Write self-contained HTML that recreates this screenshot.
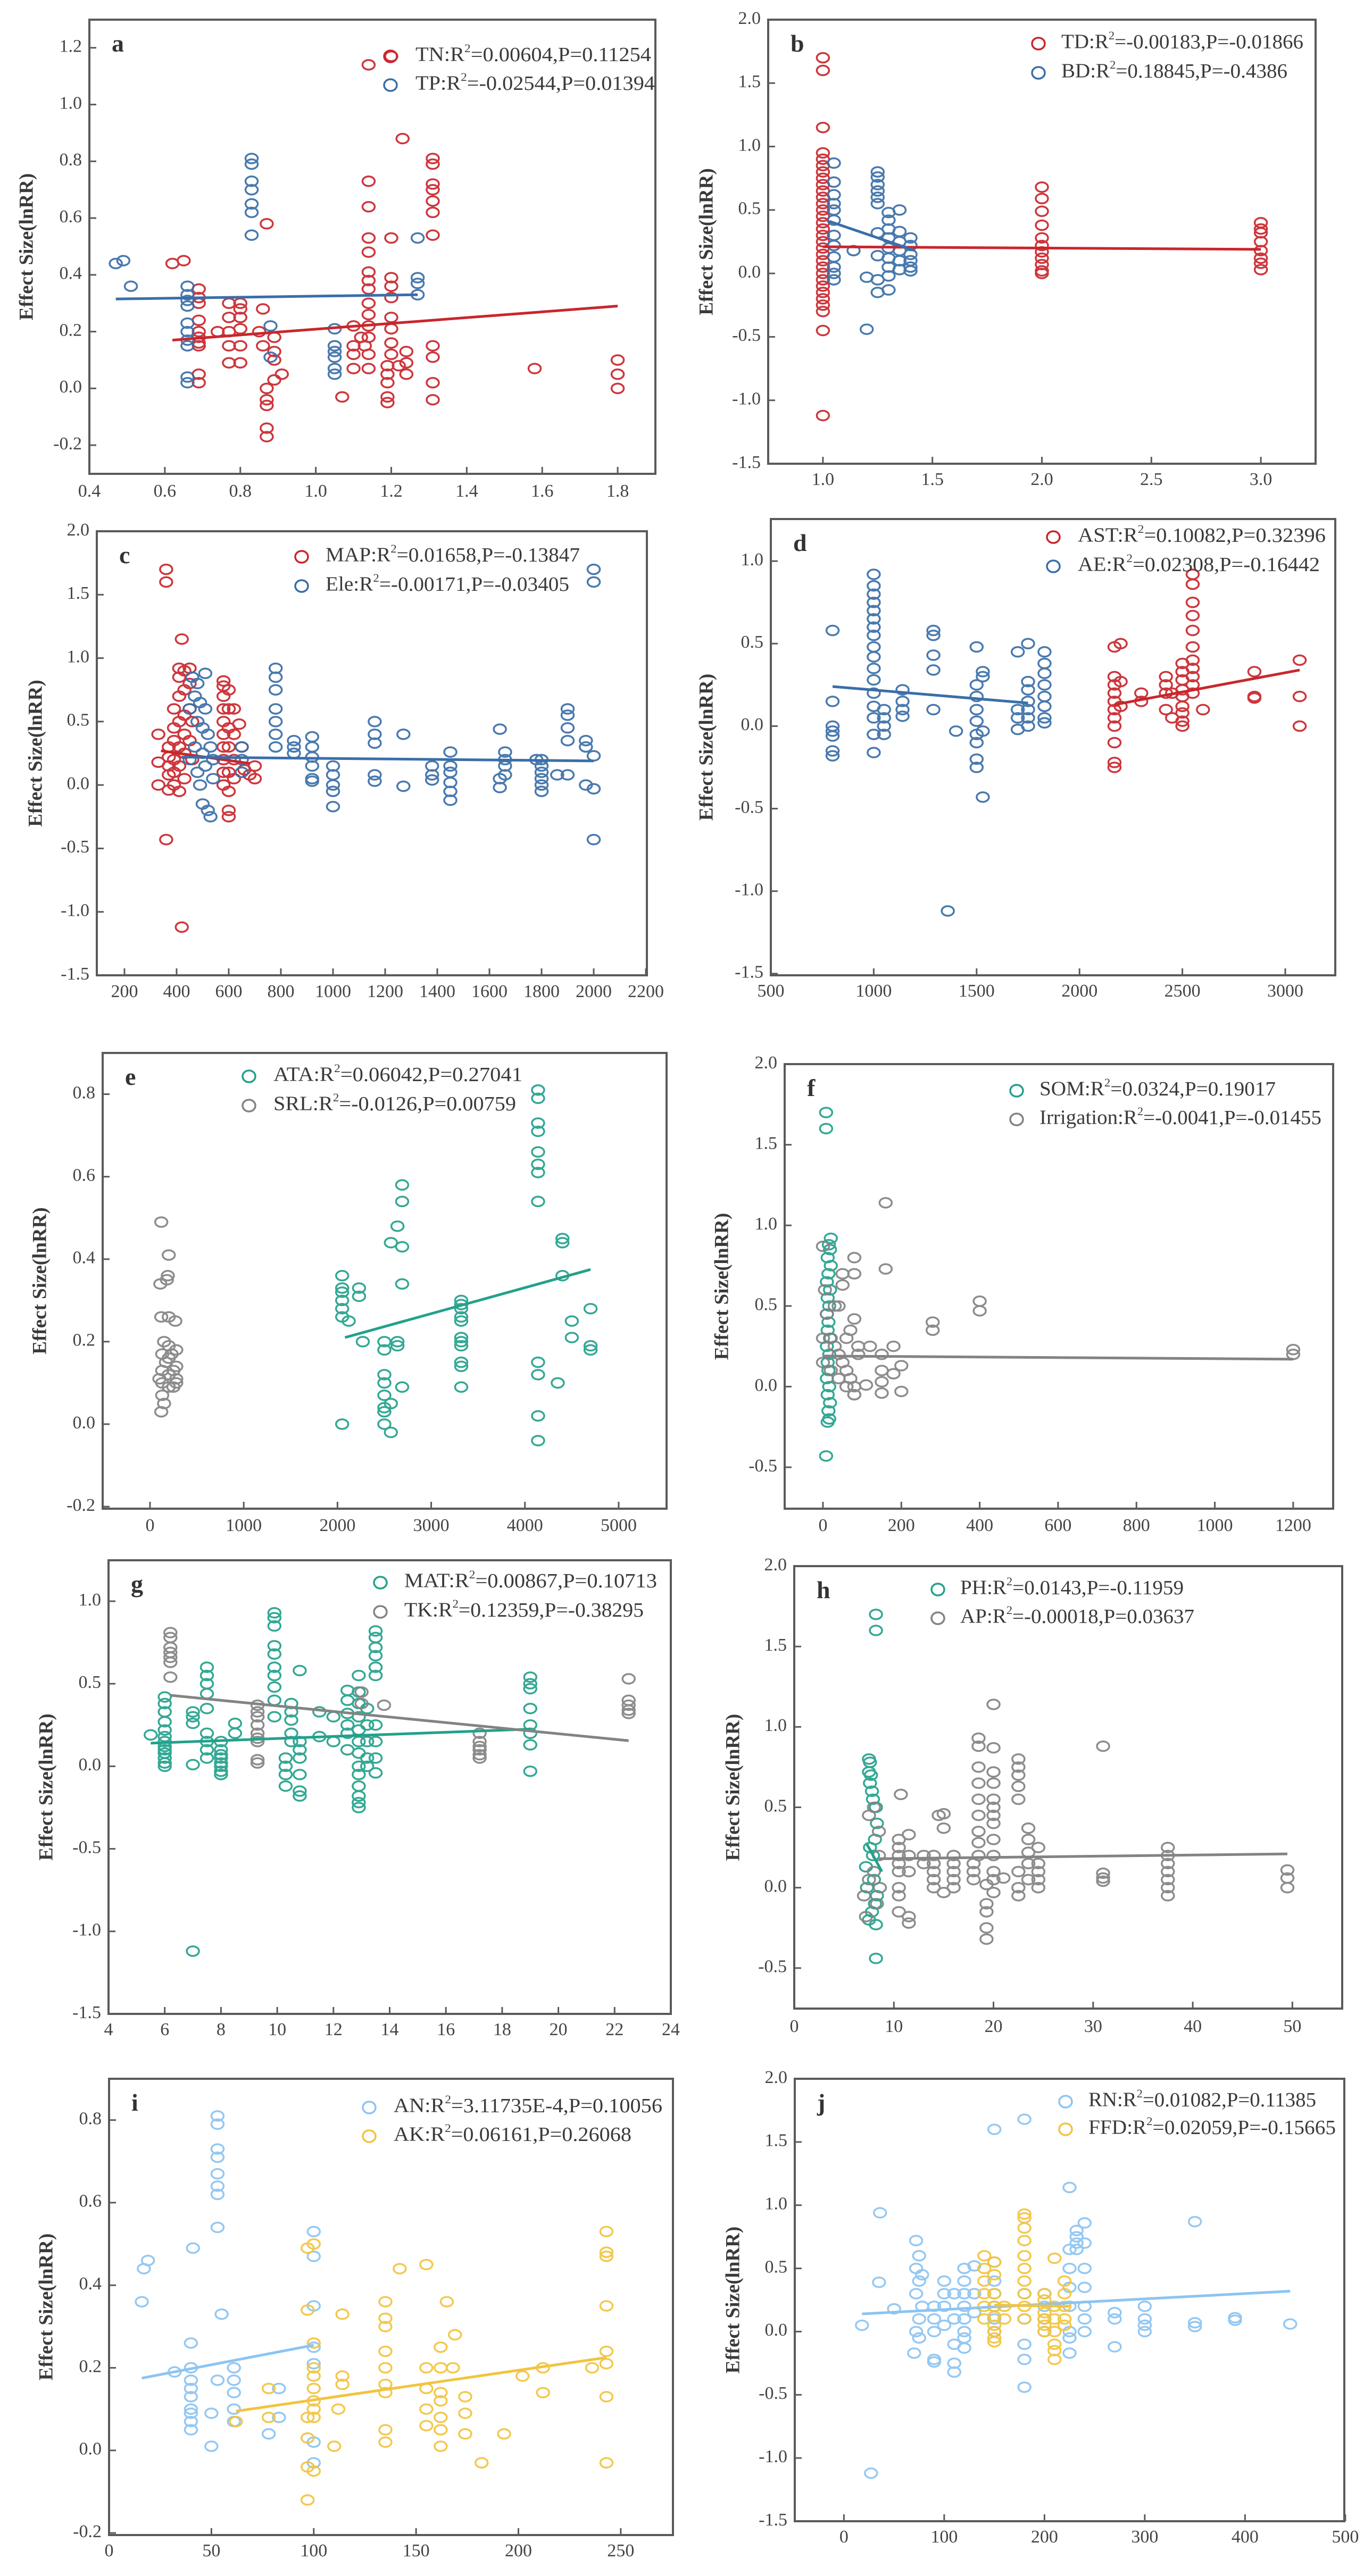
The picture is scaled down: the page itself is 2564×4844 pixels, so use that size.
<!DOCTYPE html>
<html><head><meta charset="utf-8"><style>
html,body{margin:0;padding:0;background:#fff;}
svg{display:block;}
text{font-family:"Liberation Serif",serif;}
</style></head><body>
<svg id="fig" xmlns="http://www.w3.org/2000/svg" width="2564" height="4844" viewBox="0 0 2564 4844"></svg>
<script>
// ---------- DATA ----------
const aTNx=[0.62,0.65,0.69,0.69,0.69,0.69,0.69,0.69,0.69,0.69,0.69,0.69,0.74,0.77,0.77,0.77,0.77,0.77,0.80,0.80,0.80,0.80,0.80,0.80,0.87,0.86,0.85,0.86,0.87,0.87,0.87,0.87,0.87,0.89,0.89,0.89,0.89,0.91,1.07,1.10,1.10,1.10,1.10,1.12,1.13,1.14,1.14,1.14,1.14,1.14,1.14,1.14,1.14,1.14,1.14,1.14,1.14,1.14,1.14,1.20,1.20,1.20,1.20,1.20,1.20,1.20,1.20,1.20,1.19,1.19,1.19,1.19,1.19,1.23,1.22,1.24,1.24,1.24,1.31,1.31,1.31,1.31,1.31,1.31,1.31,1.31,1.31,1.31,1.31,1.58,1.80,1.80,1.80];
const aTNy=[0.44,0.45,0.35,0.32,0.30,0.24,0.20,0.18,0.16,0.15,0.05,0.02,0.20,0.30,0.25,0.20,0.15,0.09,0.30,0.28,0.25,0.21,0.15,0.09,0.58,0.28,0.20,0.15,0.00,-0.04,-0.06,-0.14,-0.17,0.18,0.13,0.10,0.03,0.05,-0.03,0.22,0.15,0.12,0.07,0.18,0.15,1.14,0.73,0.64,0.53,0.48,0.41,0.38,0.35,0.30,0.26,0.22,0.18,0.12,0.07,1.17,0.53,0.39,0.36,0.32,0.25,0.21,0.16,0.12,0.08,0.05,0.02,-0.03,-0.05,0.88,0.08,0.13,0.09,0.05,0.81,0.79,0.72,0.70,0.66,0.62,0.54,0.15,0.11,0.02,-0.04,0.07,0.10,0.05,0.00];
const aTPx=[0.47,0.49,0.51,0.66,0.66,0.66,0.66,0.66,0.66,0.66,0.66,0.66,0.66,0.83,0.83,0.83,0.83,0.83,0.83,0.83,0.88,0.88,1.05,1.05,1.05,1.05,1.05,1.05,1.27,1.27,1.27,1.27];
const aTPy=[0.44,0.45,0.36,0.36,0.33,0.31,0.29,0.23,0.20,0.17,0.15,0.04,0.02,0.81,0.79,0.73,0.70,0.65,0.62,0.54,0.22,0.11,0.21,0.15,0.13,0.11,0.07,0.05,0.53,0.39,0.37,0.33];
const aTNfitX=[0.62,1.80], aTNfitY=[0.17,0.29];
const aTPfitX=[0.47,1.27], aTPfitY=[0.315,0.33];

const bTDx=[1,1,1,1,1,1,1,1,1,1,1,1,1,1,1,1,1,1,1,1,1,1,1,1,1,1,1,1,1,1,1,2,2,2,2,2,2,2,2,2,2,2,3,3,3,3,3,3,3,3];
const bTDy=[1.7,1.6,1.15,0.95,0.9,0.85,0.8,0.75,0.7,0.65,0.6,0.55,0.5,0.45,0.4,0.35,0.3,0.25,0.2,0.15,0.1,0.05,0,-0.05,-0.1,-0.15,-0.2,-0.25,-0.3,-0.45,-1.12,0.68,0.59,0.49,0.38,0.28,0.22,0.17,0.12,0.07,0.02,0,0.4,0.35,0.32,0.25,0.18,0.12,0.08,0.03];
const bBDx=[1.05,1.05,1.05,1.05,1.05,1.05,1.05,1.05,1.05,1.05,1.05,1.05,1.14,1.2,1.2,1.25,1.25,1.25,1.25,1.25,1.25,1.25,1.25,1.25,1.25,1.3,1.3,1.3,1.3,1.3,1.3,1.3,1.3,1.3,1.35,1.35,1.35,1.35,1.35,1.35,1.4,1.4,1.4,1.4,1.4,1.4];
const bBDy=[0.87,0.72,0.62,0.55,0.5,0.42,0.3,0.22,0.13,0.05,0,-0.05,0.18,-0.03,-0.44,0.8,0.76,0.7,0.65,0.6,0.55,0.32,0.14,-0.05,-0.15,0.48,0.42,0.35,0.28,0.2,0.12,0.05,-0.02,-0.13,0.5,0.33,0.25,0.18,0.1,0.03,0.28,0.22,0.15,0.1,0.05,0.02];
const bTDfitX=[1.0,3.0], bTDfitY=[0.21,0.19];
const bBDfitX=[1.03,1.42], bBDfitY=[0.41,0.18];

const cMAPx=[360,360,420,360,420,330,330,330,370,370,370,370,370,390,390,390,390,390,390,410,410,410,410,410,410,410,430,430,430,430,430,430,450,450,450,450,460,460,580,580,580,580,580,580,580,580,580,580,600,600,600,600,600,600,600,600,620,620,620,620,640,650,660,680,700,700];
const cMAPy=[1.7,1.6,1.15,-0.43,-1.12,0.4,0.18,0.0,0.3,0.22,0.15,0.08,-0.04,0.6,0.45,0.35,0.2,0.1,0.0,0.92,0.85,0.7,0.5,0.3,0.15,-0.05,0.9,0.75,0.55,0.4,0.25,0.05,0.92,0.8,0.6,0.35,0.5,0.2,0.82,0.78,0.7,0.6,0.5,0.4,0.3,0.2,0.1,0.0,0.75,0.6,0.45,0.3,0.1,-0.05,-0.2,-0.25,0.6,0.4,0.2,0.05,0.48,0.3,0.12,0.08,0.15,0.05];
const cElex=[450,450,460,470,470,480,480,480,490,490,500,500,500,510,510,510,520,520,530,530,540,540,650,650,650,780,780,780,780,780,780,780,850,850,850,920,920,920,920,920,920,1000,1000,1000,1000,1000,1160,1160,1160,1160,1160,1270,1270,1380,1380,1380,1450,1450,1450,1450,1450,1450,1640,1640,1640,1660,1660,1660,1660,1780,1800,1800,1800,1800,1800,1800,1860,1900,1900,1900,1900,1900,1970,1970,1970,2000,2000,2000,2000,2000];
const cEley=[0.6,0.2,0.85,0.7,0.3,0.8,0.5,0.1,0.65,0.0,0.45,0.25,-0.15,0.88,0.6,0.15,0.4,-0.2,0.3,-0.25,0.2,0.05,0.3,0.2,0.1,0.92,0.85,0.75,0.6,0.5,0.4,0.3,0.35,0.3,0.25,0.38,0.3,0.22,0.15,0.05,0.03,0.15,0.08,0.0,-0.05,-0.17,0.5,0.4,0.33,0.08,0.03,0.4,-0.01,0.15,0.08,0.04,0.26,0.15,0.1,0.02,-0.05,-0.12,0.44,0.05,-0.02,0.26,0.2,0.15,0.08,0.2,0.2,0.15,0.1,0.05,0.0,-0.05,0.08,0.6,0.55,0.45,0.35,0.08,0.35,0.3,0.0,1.7,1.6,0.23,-0.03,-0.43];
const cMAPfitX=[340,680], cMAPfitY=[0.27,0.17];
const cElefitX=[420,2000], cElefitY=[0.22,0.19];

const dAEx=[800,800,800,800,800,800,800,1000,1000,1000,1000,1000,1000,1000,1000,1000,1000,1000,1000,1000,1000,1000,1000,1000,1050,1050,1050,1050,1140,1140,1140,1140,1290,1290,1290,1290,1290,1400,1500,1500,1500,1500,1500,1500,1500,1500,1500,1530,1530,1530,1530,1360,1700,1700,1700,1700,1750,1750,1750,1750,1750,1750,1750,1830,1830,1830,1830,1830,1830,1830,1830];
const dAEy=[0.58,0.15,0,-0.03,-0.06,-0.15,-0.18,0.92,0.85,0.8,0.75,0.7,0.65,0.6,0.55,0.48,0.42,0.35,0.28,0.2,0.12,0.05,-0.05,-0.16,0.1,0.05,0.0,-0.05,0.22,0.15,0.1,0.06,0.58,0.55,0.43,0.34,0.1,-0.03,0.48,0.25,0.18,0.1,0.03,-0.05,-0.1,-0.2,-0.25,0.33,0.3,-0.03,-0.43,-1.12,0.45,0.1,0.05,-0.02,0.5,0.27,0.22,0.15,0.1,0.05,0.0,0.45,0.38,0.32,0.25,0.18,0.12,0.05,0.02];
const dASTx=[2170,2170,2170,2170,2170,2170,2170,2170,2170,2170,2170,2200,2200,2200,2300,2300,2420,2420,2420,2420,2450,2450,2500,2500,2500,2500,2500,2500,2500,2500,2500,2550,2550,2550,2550,2550,2550,2550,2550,2550,2550,2550,2600,2850,2850,2850,3070,3070,3070];
const dASTy=[0.48,0.3,0.25,0.2,0.15,0.1,0.05,0.0,-0.1,-0.22,-0.25,0.5,0.27,0.12,0.2,0.15,0.3,0.25,0.2,0.1,0.2,0.05,0.38,0.33,0.28,0.22,0.18,0.12,0.08,0.03,0.0,0.92,0.86,0.75,0.67,0.58,0.48,0.4,0.35,0.3,0.25,0.2,0.1,0.33,0.18,0.17,0.4,0.18,0.0];
const dAEfitX=[800,1750], dAEfitY=[0.24,0.14];
const dASTfitX=[2170,3070], dASTfitY=[0.13,0.34];

const eATAx=[2050,2050,2050,2050,2050,2050,2050,2120,2230,2230,2270,2500,2500,2500,2500,2500,2500,2500,2500,2570,2570,2570,2640,2640,2640,2690,2690,2690,2690,2690,3320,3320,3320,3320,3320,3320,3320,3320,3320,3320,3320,4140,4140,4140,4140,4140,4140,4140,4140,4140,4140,4140,4140,4350,4400,4400,4400,4500,4500,4700,4700,4700];
const eATAy=[0.36,0.33,0.32,0.3,0.28,0.26,0.0,0.25,0.33,0.31,0.2,0.2,0.18,0.12,0.1,0.07,0.04,0.03,0.0,0.44,0.05,-0.02,0.48,0.2,0.19,0.58,0.54,0.43,0.34,0.09,0.3,0.29,0.28,0.26,0.25,0.21,0.2,0.19,0.15,0.14,0.09,0.81,0.79,0.73,0.71,0.66,0.63,0.61,0.54,0.15,0.12,0.02,-0.04,0.1,0.45,0.44,0.36,0.25,0.21,0.28,0.19,0.18];
const eSRLx=[120,200,190,180,110,120,200,270,150,200,280,130,200,280,130,200,280,130,200,280,130,150,120,250,170,230,100,250];
const eSRLy=[0.49,0.41,0.36,0.35,0.34,0.26,0.26,0.25,0.2,0.19,0.18,0.17,0.16,0.14,0.13,0.12,0.11,0.1,0.09,0.1,0.07,0.05,0.03,0.13,0.15,0.17,0.11,0.09];
const eATAfitX=[2080,4700], eATAfitY=[0.21,0.375];

const fSOMx=[8,8,20,15,18,12,20,14,10,18,12,16,10,14,12,18,10,16,12,14,10,16,12,18,14,16,12,8];
const fSOMy=[1.7,1.6,0.92,0.88,0.85,0.8,0.75,0.7,0.65,0.6,0.55,0.5,0.45,0.4,0.35,0.3,0.25,0.2,0.15,0.1,0.05,0,-0.05,-0.1,-0.15,-0.2,-0.22,-0.43];
const fIRRx=[0,5,10,20,30,40,50,60,70,80,90,0,20,40,60,80,0,30,60,90,50,80,80,50,40,80,70,160,160,280,280,400,400,120,180,150,150,180,150,150,200,200,110,80,1200,1200];
const fIRRy=[0.87,0.6,0.45,0.3,0.25,0.2,0.15,0.1,0.05,0.0,0.2,0.3,0.1,0.05,0.0,-0.05,0.15,0.5,0.3,0.25,0.7,0.8,0.7,0.63,0.5,0.42,0.35,1.14,0.73,0.4,0.35,0.53,0.47,0.25,0.25,0.2,0.1,0.08,0.03,-0.04,0.13,-0.03,0.01,-0.05,0.23,0.2];
const fIRRfitX=[0,1200], fIRRfitY=[0.19,0.17];

const gMATx=[5.5,6,6,6,6,6,6,6,6,6,6,6,6,6,7,7,7,7,7,7.5,7.5,7.5,7.5,7.5,7.5,7.5,7.5,7.5,8,8,8,8,8,8,8,8,8.5,8.5,9.9,9.9,9.9,9.9,9.9,9.9,9.9,9.9,9.9,9.9,10.3,10.3,10.3,10.3,10.5,10.5,10.5,10.5,10.5,10.8,10.8,10.8,10.8,10.8,10.8,10.8,11.5,11.5,12,12,12.5,12.5,12.5,12.5,12.5,12.5,12.9,12.9,12.9,12.9,12.9,12.9,12.9,12.9,12.9,12.9,12.9,12.9,12.9,13.2,13.2,13.2,13.2,13.2,13.5,13.5,13.5,13.5,13.5,13.5,13.5,13.5,13.5,13.5,19,19,19,19,19,19,19,19];
const gMATy=[0.19,0.42,0.38,0.33,0.27,0.22,0.18,0.15,0.12,0.1,0.08,0.05,0.02,0.0,0.33,0.3,0.26,0.01,-1.12,0.6,0.55,0.5,0.44,0.35,0.2,0.15,0.1,0.05,0.15,0.1,0.07,0.05,0.02,0.0,-0.03,-0.05,0.2,0.26,0.93,0.9,0.85,0.73,0.68,0.6,0.55,0.48,0.4,0.3,0.05,0.0,-0.05,-0.12,0.38,0.33,0.28,0.2,0.15,0.58,0.15,0.1,0.05,-0.05,-0.15,-0.18,0.33,0.18,0.15,0.3,0.46,0.4,0.32,0.25,0.2,0.1,0.55,0.45,0.38,0.3,0.22,0.15,0.08,0.0,-0.05,-0.12,-0.18,-0.22,-0.25,0.35,0.25,0.15,0.05,0.0,0.82,0.78,0.72,0.67,0.6,0.55,0.25,0.15,0.05,-0.04,0.54,0.5,0.47,0.35,0.25,0.2,0.13,-0.03];
const gTKx=[6.2,6.2,6.2,6.2,6.2,6.2,6.2,9.3,9.3,9.3,9.3,9.3,9.3,9.3,9.3,9.3,13,13,13.8,17.2,17.2,17.2,17.2,17.2,17.2,22.5,22.5,22.5,22.5,22.5];
const gTKy=[0.81,0.78,0.72,0.69,0.66,0.63,0.54,0.37,0.33,0.3,0.25,0.2,0.17,0.15,0.04,0.02,0.45,0.38,0.37,0.2,0.15,0.12,0.1,0.07,0.05,0.53,0.4,0.37,0.34,0.32];
const gMATfitX=[5.5,19], gMATfitY=[0.14,0.225];
const gTKfitX=[6.2,22.5], gTKfitY=[0.43,0.155];

const hPHx=[8.2,8.2,7.5,7.6,7.5,7.7,7.6,7.8,7.9,8.2,8.3,8.1,7.6,7.9,7.2,8.0,7.3,8.3,8.1,7.8,7.5,8.2,8.2];
const hPHy=[1.7,1.6,0.8,0.78,0.72,0.7,0.65,0.6,0.55,0.5,0.4,0.3,0.25,0.2,0.13,0.05,0,-0.05,-0.1,-0.15,-0.2,-0.23,-0.44];
const hAPx=[7,7.5,8,8.5,8.5,8,7.5,8.3,8.6,7.2,10.5,10.5,10.5,10.5,10.5,10.5,10.5,10.5,10.7,11.5,11.5,11.5,11.5,11.5,13,13,14,14,14,14,14,14.5,15,15,15,16,16,16,16,16,18,18,18,18.5,18.5,18.5,18.5,18.5,18.5,18.5,18.5,18.5,19.3,19.3,19.3,19.3,19.3,20,20,20,20,20,20,20,20,20,20,20,20,20,21,22.5,22.5,22.5,22.5,22.5,22.5,22.5,22.5,23.5,23.5,23.5,23.5,23.5,24.5,24.5,24.5,24.5,24.5,31,31,31,31,37.5,37.5,37.5,37.5,37.5,37.5,37.5,49.5,49.5,49.5];
const hAPy=[-0.05,0.45,0.5,0.35,0.2,0.1,0.05,-0.1,0.0,-0.18,0.3,0.25,0.2,0.15,0.1,0.0,-0.05,-0.15,0.58,0.33,0.2,0.1,-0.18,-0.22,0.2,0.15,0.2,0.15,0.1,0.05,0.0,0.45,0.46,0.37,-0.03,0.2,0.15,0.1,0.05,0.0,0.15,0.1,0.05,0.93,0.88,0.75,0.65,0.55,0.45,0.35,0.28,0.2,-0.1,-0.15,-0.25,-0.32,0.02,1.14,0.87,0.72,0.65,0.55,0.5,0.45,0.4,0.3,0.2,0.1,0.05,-0.03,0.06,0.8,0.75,0.7,0.63,0.55,0.1,0.0,-0.05,0.37,0.3,0.22,0.15,0.05,0.25,0.15,0.1,0.05,0.0,0.88,0.09,0.06,0.04,0.25,0.2,0.15,0.1,0.05,0,-0.05,0.11,0.06,0.0];
const hPHfitX=[7.3,8.8], hPHfitY=[0.27,0.1];
const hAPfitX=[8.5,49.5], hAPfitY=[0.18,0.21];

const iANx=[16,17,19,32,41,40,40,40,40,40,40,40,40,40,50,50,53,53,53,53,53,53,53,53,55,53,61,61,61,61,61,78,83,83,100,100,100,100,100,100,100];
const iANy=[0.36,0.44,0.46,0.19,0.49,0.26,0.2,0.17,0.15,0.13,0.1,0.09,0.07,0.05,0.09,0.01,0.81,0.79,0.73,0.71,0.67,0.64,0.62,0.54,0.33,0.17,0.2,0.17,0.14,0.1,0.07,0.04,0.15,0.08,0.53,0.47,0.35,0.25,0.21,0.02,-0.03];
const iAKx=[62,78,78,97,97,97,97,97,97,100,100,100,100,100,100,100,100,100,110,112,114,114,114,135,135,135,135,135,135,135,135,135,142,155,155,155,155,155,162,162,162,162,162,162,162,165,168,169,174,174,174,182,193,202,212,212,236,243,243,243,243,243,243,243,243];
const iAKy=[0.07,0.15,0.08,0.49,0.34,0.08,0.03,-0.04,-0.12,0.5,0.26,0.2,0.18,0.15,0.12,0.1,0.08,-0.05,0.01,0.1,0.33,0.18,0.16,0.36,0.32,0.3,0.24,0.2,0.16,0.14,0.05,0.02,0.44,0.45,0.2,0.15,0.1,0.06,0.25,0.2,0.14,0.12,0.08,0.05,0.01,0.36,0.2,0.28,0.13,0.09,0.04,-0.03,0.04,0.18,0.2,0.14,0.2,0.53,0.48,0.47,0.35,0.24,0.21,0.13,-0.03];
const iANfitX=[16,100], iANfitY=[0.175,0.255];
const iAKfitX=[62,243], iAKfitY=[0.095,0.225];

const jRNx=[18,27,36,35,50,72,75,72,78,75,72,78,75,72,75,70,90,90,90,90,90,100,100,100,100,110,110,110,110,110,120,120,120,120,120,120,120,120,130,130,130,150,150,150,150,150,150,150,180,180,180,180,180,180,200,200,200,200,225,225,225,225,225,225,225,225,232,232,232,232,240,240,240,240,240,240,240,270,270,270,300,300,300,300,350,350,350,390,390,445];
const jRNy=[0.05,-1.12,0.94,0.39,0.18,0.72,0.6,0.5,0.45,0.4,0.3,0.2,0.1,0.0,-0.05,-0.17,0.2,0.1,0.0,-0.22,-0.24,0.4,0.3,0.2,0.05,0.3,0.1,-0.1,-0.25,-0.32,0.5,0.4,0.3,0.2,0.1,0,-0.05,-0.13,0.52,0.3,0.15,1.6,0.55,0.4,0.3,0.2,0.1,0.0,1.68,0.3,0.1,-0.1,-0.22,-0.44,0.3,0.2,0.1,0.0,1.14,0.65,0.5,0.35,0.2,0.0,-0.05,-0.17,0.8,0.75,0.7,0.65,0.86,0.7,0.5,0.35,0.2,0.1,0.0,0.15,0.1,-0.12,0.2,0.1,0.05,0.0,0.87,0.07,0.04,0.11,0.09,0.06];
const jFFDx=[140,140,140,140,140,140,150,150,150,150,150,150,150,150,150,160,160,180,180,180,180,180,180,180,180,180,180,200,200,200,200,200,200,210,210,210,210,210,210,210,220,220,220,220,220];
const jFFDy=[0.6,0.5,0.4,0.3,0.2,0.1,0.55,0.45,0.3,0.2,0.12,0.05,0,-0.05,-0.08,0.2,0.1,0.93,0.9,0.82,0.72,0.6,0.5,0.4,0.3,0.2,0.1,0.3,0.25,0.15,0.1,0.05,0.0,0.58,0.2,0.1,0.0,-0.1,-0.15,-0.22,0.4,0.3,0.2,0.1,0.05];
const jRNfitX=[18,445], jRNfitY=[0.14,0.32];
const jFFDfitX=[150,225], jFFDfitY=[0.21,0.2];

// tick label arrays
const aXt=["0.4","0.6","0.8","1.0","1.2","1.4","1.6","1.8"], aYt=["-0.2","0.0","0.2","0.4","0.6","0.8","1.0","1.2"];
const bXt=["1.0","1.5","2.0","2.5","3.0"], bYt=["-1.5","-1.0","-0.5","0.0","0.5","1.0","1.5","2.0"];
const cXt=["200","400","600","800","1000","1200","1400","1600","1800","2000","2200"], cYt=bYt;
const dXt=["500","1000","1500","2000","2500","3000"], dYt=["-1.5","-1.0","-0.5","0.0","0.5","1.0"];
const eXt=["0","1000","2000","3000","4000","5000"], eYt=["-0.2","0.0","0.2","0.4","0.6","0.8"];
const fXt=["0","200","400","600","800","1000","1200"], fYt=["-0.5","0.0","0.5","1.0","1.5","2.0"];
const gXt=["4","6","8","10","12","14","16","18","20","22","24"], gYt=dYt;
const hXt=["0","10","20","30","40","50"], hYt=fYt;
const iXt=["0","50","100","150","200","250"], iYt=eYt;
const jXt=["0","100","200","300","400","500"], jYt=bYt;

// ---------- LAYOUT (not data) ----------
const RED="#c9262c", BLUE="#3a6ea8", TEAL="#22a18b", GRAY="#838383", LBLUE="#8cc4f2", YEL="#f2c43e";
const panels=[
 {id:"a",x0:168,x1:1232,y0:37,y1:891,xmin:0.4,xmax:1.9,ymin:-0.301,ymax:1.299,xl:926,yt:53,xt:aXt,yT:aYt,
  leg:{mx:734,my:106,tx:781,dy:54,w:[443,450]},
  s:[{n:"TN",c:RED,x:aTNx,y:aTNy,fx:aTNfitX,fy:aTNfitY,l:"TN:R",r:"=0.00604,P=0.11254"},{n:"TP",c:BLUE,x:aTPx,y:aTPy,fx:aTPfitX,fy:aTPfitY,l:"TP:R",r:"=-0.02544,P=0.01394"}]},
 {id:"b",x0:1444,x1:2473,y0:37,y1:872,xmin:0.75,xmax:3.25,ymin:-1.5,ymax:2.0,xl:904,yt:1331,xt:bXt,yT:bYt,
  leg:{mx:1952,my:82,tx:1995,dy:55,w:[455,425]},
  s:[{n:"TD",c:RED,x:bTDx,y:bTDy,fx:bTDfitX,fy:bTDfitY,l:"TD:R",r:"=-0.00183,P=-0.01866"},{n:"BD",c:BLUE,x:bBDx,y:bBDy,fx:bBDfitX,fy:bBDfitY,l:"BD:R",r:"=0.18845,P=-0.4386"}]},
 {id:"c",x0:182,x1:1216,y0:999,y1:1834,xmin:94,xmax:2204,ymin:-1.5,ymax:2.0,xl:1867,yt:70,xt:cXt,yT:cYt,
  leg:{mx:567,my:1047,tx:612,dy:55,w:[478,458]},
  s:[{n:"MAP",c:RED,x:cMAPx,y:cMAPy,fx:cMAPfitX,fy:cMAPfitY,l:"MAP:R",r:"=0.01658,P=-0.13847"},{n:"Ele",c:BLUE,x:cElex,y:cEley,fx:cElefitX,fy:cElefitY,l:"Ele:R",r:"=-0.00171,P=-0.03405"}]},
 {id:"d",x0:1449,x1:2510,y0:976,y1:1834,xmin:500,xmax:3243,ymin:-1.51,ymax:1.255,xl:1866,yt:1331,xt:dXt,yT:dYt,
  leg:{mx:1980,my:1010,tx:2026,dy:55,w:[466,455]},
  s:[{n:"AST",c:RED,x:dASTx,y:dASTy,fx:dASTfitX,fy:dASTfitY,l:"AST:R",r:"=0.10082,P=0.32396"},{n:"AE",c:BLUE,x:dAEx,y:dAEy,fx:dAEfitX,fy:dAEfitY,l:"AE:R",r:"=0.02308,P=-0.16442"}]},
 {id:"e",x0:193,x1:1253,y0:1980,y1:2837,xmin:-505,xmax:5511,ymin:-0.205,ymax:0.9,xl:2871,yt:78,xt:eXt,yT:eYt,
  leg:{mx:468,my:2024,tx:514,dy:55,w:[468,456]},
  s:[{n:"ATA",c:TEAL,x:eATAx,y:eATAy,fx:eATAfitX,fy:eATAfitY,l:"ATA:R",r:"=0.06042,P=0.27041"},{n:"SRL",c:GRAY,x:eSRLx,y:eSRLy,fx:null,fy:null,l:"SRL:R",r:"=-0.0126,P=0.00759"}]},
 {id:"f",x0:1475,x1:2506,y0:2001,y1:2837,xmin:-97.7,xmax:1302,ymin:-0.757,ymax:2.0,xl:2871,yt:1360,xt:fXt,yT:fYt,
  leg:{mx:1911,my:2051,tx:1954,dy:54,w:[444,530]},
  s:[{n:"SOM",c:TEAL,x:fSOMx,y:fSOMy,fx:null,fy:null,l:"SOM:R",r:"=0.0324,P=0.19017"},{n:"Irrigation",c:GRAY,x:fIRRx,y:fIRRy,fx:fIRRfitX,fy:fIRRfitY,l:"Irrigation:R",r:"=-0.0041,P=-0.01455"}]},
 {id:"g",x0:204,x1:1261,y0:2934,y1:3787,xmin:4,xmax:24,ymin:-1.5,ymax:1.248,xl:3819,yt:90,xt:gXt,yT:gYt,
  leg:{mx:715,my:2976,tx:760,dy:55,w:[475,450]},
  s:[{n:"MAT",c:TEAL,x:gMATx,y:gMATy,fx:gMATfitX,fy:gMATfitY,l:"MAT:R",r:"=0.00867,P=0.10713"},{n:"TK",c:GRAY,x:gTKx,y:gTKy,fx:gTKfitX,fy:gTKfitY,l:"TK:R",r:"=0.12359,P=-0.38295"}]},
 {id:"h",x0:1493,x1:2523,y0:2945,y1:3777,xmin:0,xmax:55,ymin:-0.752,ymax:2.0,xl:3813,yt:1381,xt:hXt,yT:hYt,
  leg:{mx:1763,my:2989,tx:1805,dy:54,w:[420,440]},
  s:[{n:"PH",c:TEAL,x:hPHx,y:hPHy,fx:hPHfitX,fy:hPHfitY,l:"PH:R",r:"=0.0143,P=-0.11959"},{n:"AP",c:GRAY,x:hAPx,y:hAPy,fx:hAPfitX,fy:hAPfitY,l:"AP:R",r:"=-0.00018,P=0.03637"}]},
 {id:"i",x0:205,x1:1265,y0:3909,y1:4767,xmin:0,xmax:275.5,ymin:-0.205,ymax:0.9,xl:4799,yt:90,xt:iXt,yT:iYt,
  leg:{mx:694,my:3963,tx:740,dy:54,w:[505,447]},
  s:[{n:"AN",c:LBLUE,x:iANx,y:iANy,fx:iANfitX,fy:iANfitY,l:"AN:R",r:"=3.11735E-4,P=0.10056"},{n:"AK",c:YEL,x:iAKx,y:iAKy,fx:iAKfitX,fy:iAKfitY,l:"AK:R",r:"=0.06161,P=0.26068"}]},
 {id:"j",x0:1494,x1:2527,y0:3909,y1:4741,xmin:-49,xmax:499,ymin:-1.5,ymax:2.0,xl:4773,yt:1381,xt:jXt,yT:jYt,
  leg:{mx:2003,my:3952,tx:2046,dy:52,w:[428,465]},
  s:[{n:"RN",c:LBLUE,x:jRNx,y:jRNy,fx:jRNfitX,fy:jRNfitY,l:"RN:R",r:"=0.01082,P=0.11385"},{n:"FFD",c:YEL,x:jFFDx,y:jFFDy,fx:jFFDfitX,fy:jFFDfitY,l:"FFD:R",r:"=0.02059,P=-0.15665"}]}
];

const NS="http://www.w3.org/2000/svg";
const svg=document.getElementById("fig");
function mk(tag,attrs,parent){const e=document.createElementNS(NS,tag);for(const k in attrs)e.setAttribute(k,attrs[k]);parent.appendChild(e);return e;}

panels.forEach(p=>{
  const sx=v=>p.x0+(v-p.xmin)/(p.xmax-p.xmin)*(p.x1-p.x0);
  const sy=v=>p.y1-(v-p.ymin)/(p.ymax-p.ymin)*(p.y1-p.y0);
  const g=mk("g",{},svg);
  
  
  // series points & fits
  p.s.forEach(s=>{
    const sg=mk("g",{fill:"none",stroke:s.c,"stroke-width":3.5,opacity:0.92},g);
    
    
    for(let i=0;i<s.x.length;i++){
      const e=mk("ellipse",{cx:sx(s.x[i]),cy:sy(s.y[i]),rx:11.5,ry:9},sg);
      
      
    }
  });
  p.s.forEach(s=>{
    if(!s.fx) return;
    const l=mk("line",{x1:sx(s.fx[0]),y1:sy(s.fy[0]),x2:sx(s.fx[1]),y2:sy(s.fy[1]),stroke:s.c,"stroke-width":5},g);
    
    
  });
  // frame
  const fr=mk("rect",{x:p.x0,y:p.y0,width:p.x1-p.x0,height:p.y1-p.y0,fill:"none",stroke:"#5a5a5a","stroke-width":4},g);
  
  
  // x ticks
  p.xt.forEach(t=>{
    const v=parseFloat(t), X=sx(v);
    const tk=mk("line",{x1:X,y1:p.y1,x2:X,y2:p.y1-13,stroke:"#5a5a5a","stroke-width":3},g);
    
    
    const tx=mk("text",{x:X,y:p.xl,"font-size":34,fill:"#444","text-anchor":"middle","dominant-baseline":"middle"},g);
    tx.textContent=t;
    
    
  });
  // y ticks
  p.yT.forEach(t=>{
    const v=parseFloat(t), Y=sy(v);
    const tk=mk("line",{x1:p.x0,y1:Y,x2:p.x0+13,y2:Y,stroke:"#5a5a5a","stroke-width":3},g);
    
    
    const tx=mk("text",{x:p.x0-14,y:Y,"font-size":34,fill:"#444","text-anchor":"end","dominant-baseline":"middle"},g);
    tx.textContent=t;
    
    
  });
  // y title
  const cy=(p.y0+p.y1)/2;
  const yt=mk("text",{x:p.yt,y:cy,"font-size":37,"font-weight":"bold",fill:"#3a3a3a","text-anchor":"middle","dominant-baseline":"middle",transform:`rotate(-90 ${p.yt} ${cy})`},g);
  yt.textContent="Effect Size(lnRR)";
  
  
  // panel letter
  const lt=mk("text",{x:p.x0+42,y:p.y0+60,"font-size":46,"font-weight":"bold",fill:"#333"},g);
  lt.textContent=p.id;
  
  
  // legend
  p.s.forEach((s,k)=>{
    const yy=p.leg.my+k*p.leg.dy;
    const m=mk("ellipse",{cx:p.leg.mx,cy:yy,rx:12,ry:11,fill:"none",stroke:s.c,"stroke-width":3.5},g);
    
    
    const t=mk("text",{x:p.leg.tx,y:yy,"font-size":38,fill:"#3a3a3a","dominant-baseline":"middle",textLength:p.leg.w[k],lengthAdjust:"spacingAndGlyphs"},g);
    t.appendChild(document.createTextNode(s.l));
    const sup=mk("tspan",{"font-size":22,dy:-13},t);
    sup.textContent="2";
    const rest=mk("tspan",{dy:13},t);
    rest.textContent=s.r;
    
    
  });
});
</script>
</body></html>
